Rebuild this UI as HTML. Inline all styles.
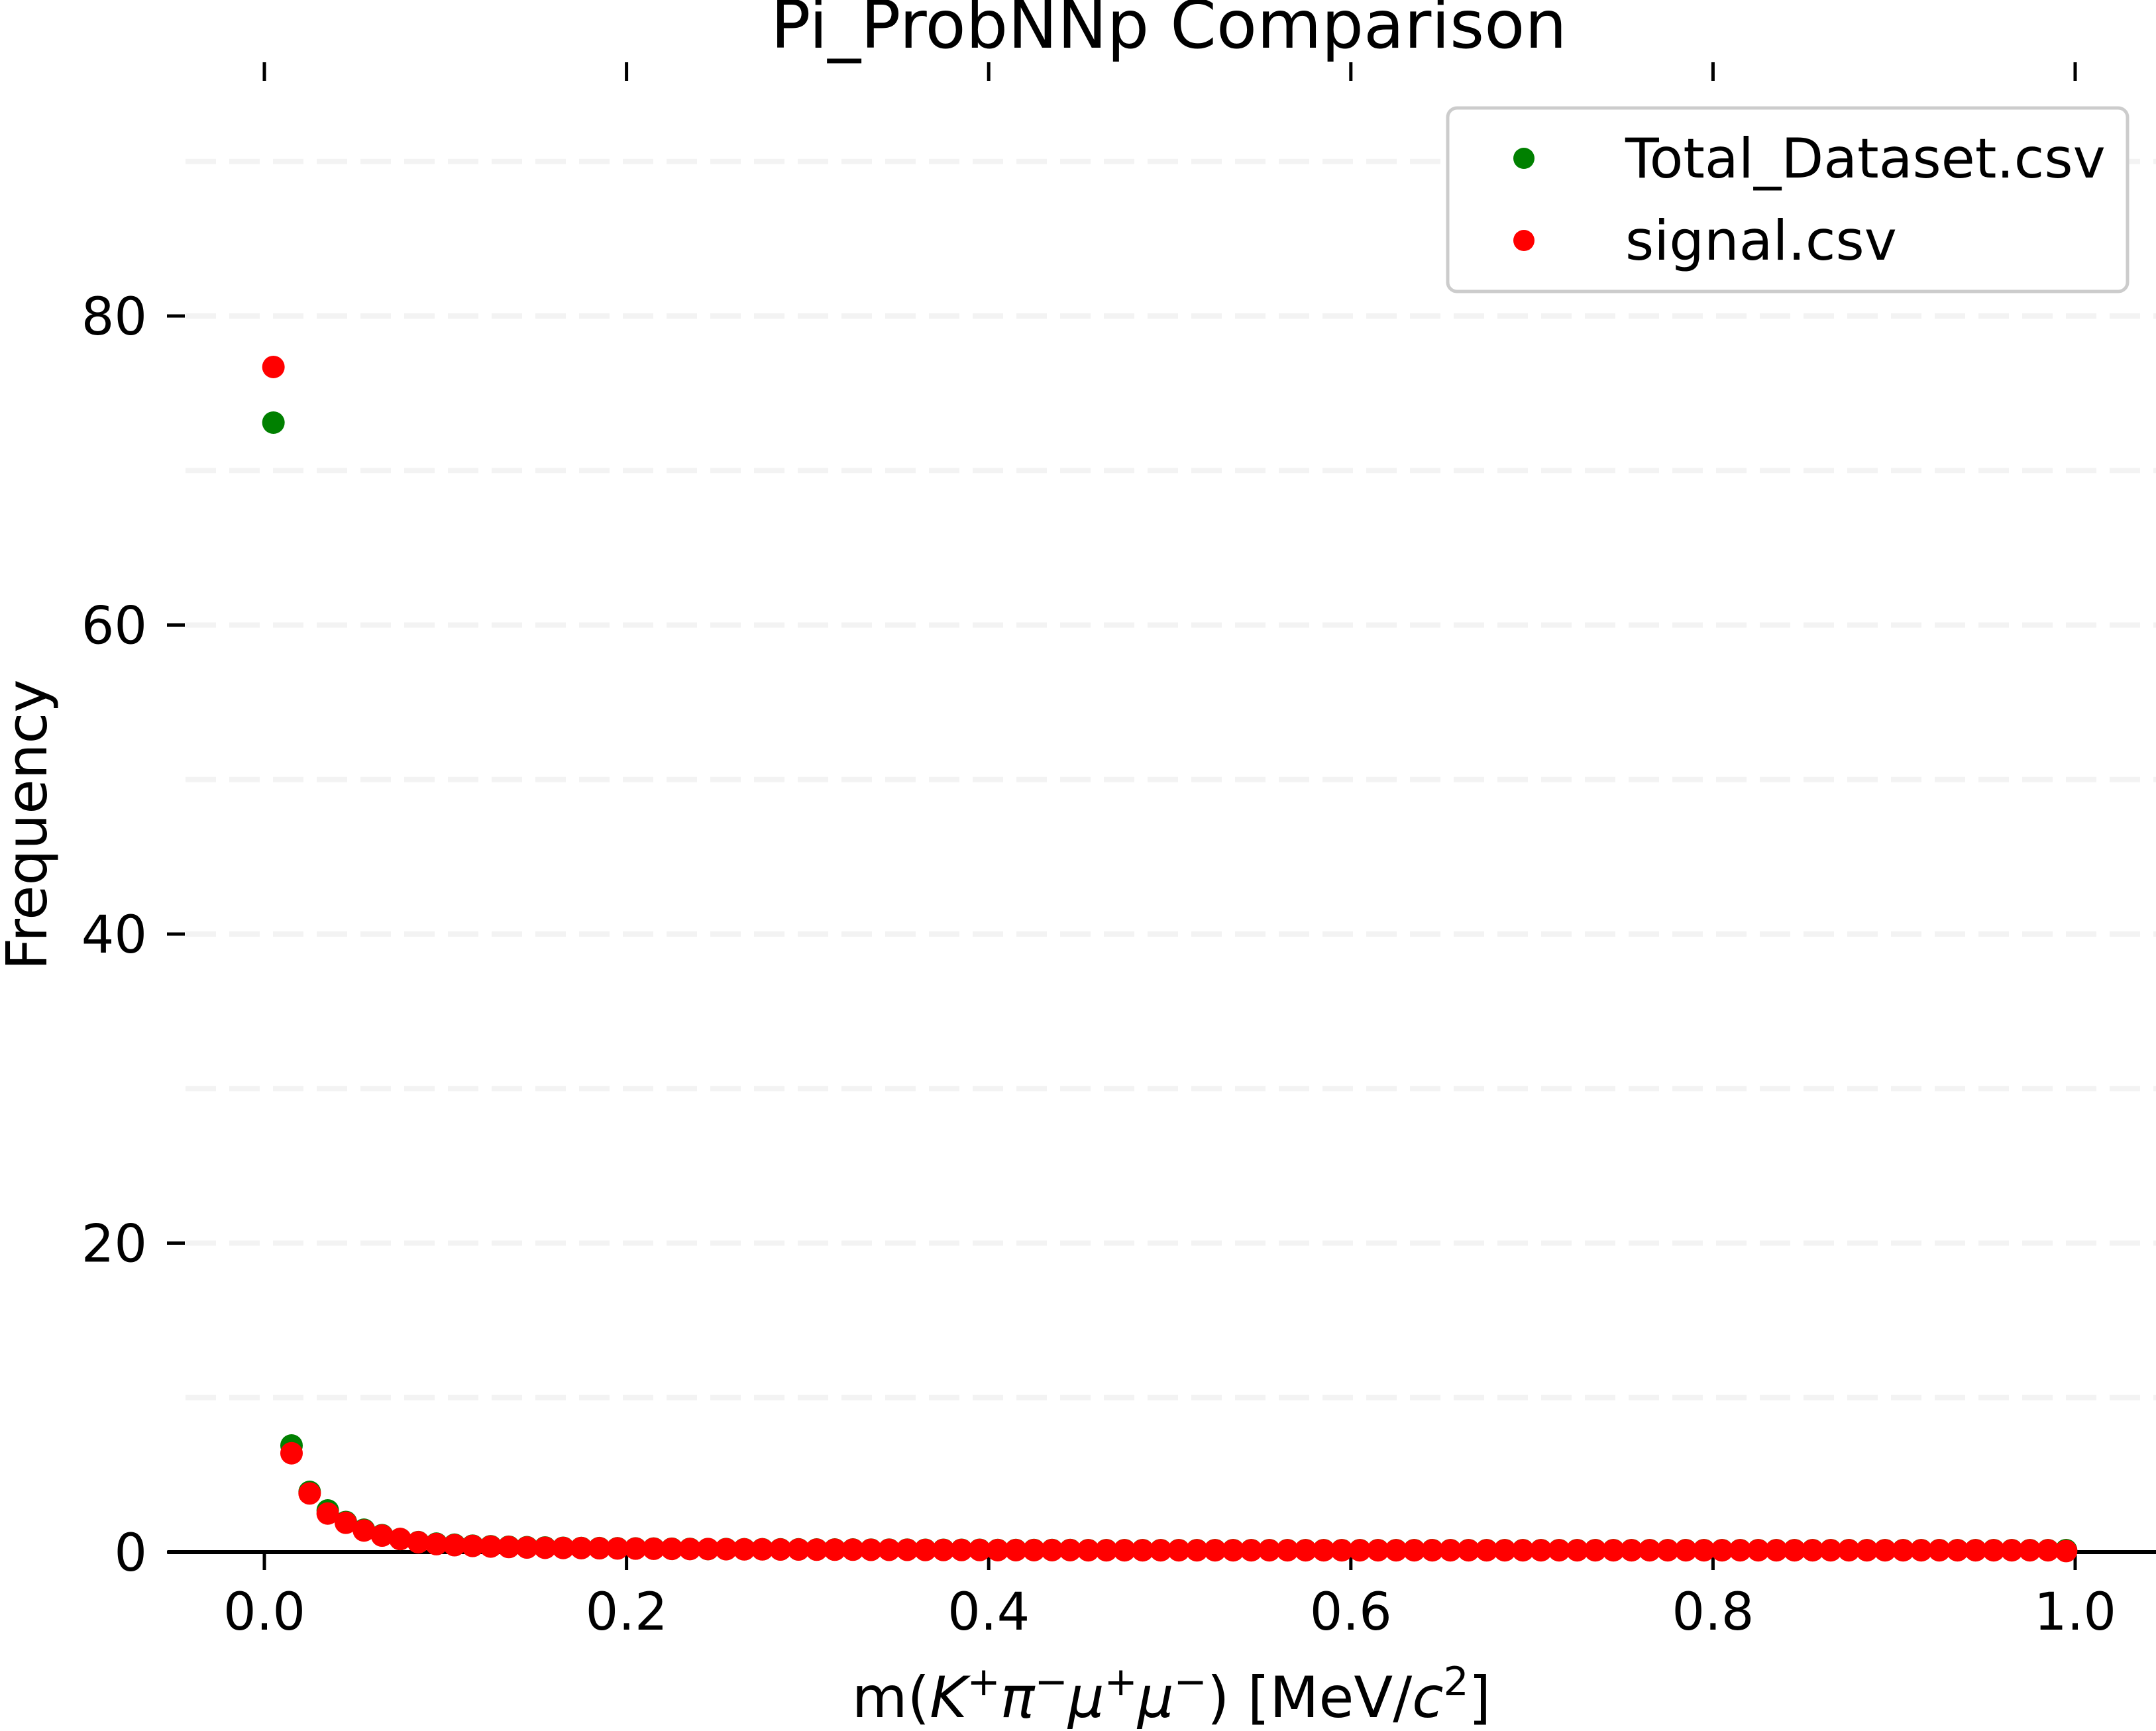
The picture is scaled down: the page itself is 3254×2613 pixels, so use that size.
<!DOCTYPE html>
<html><head><meta charset="utf-8"><style>
html,body{margin:0;padding:0;background:#fff;}
svg{display:block;font-family:"DejaVu Sans","Liberation Sans",sans-serif;}
</style></head><body>
<svg id="chart" width="3254" height="2613" viewBox="0 0 3254 2613" xmlns="http://www.w3.org/2000/svg">
<rect width="3254" height="2613" fill="#fff"/>
<g id="grid"></g>
<g id="axes"></g>
<g id="points"></g>
<text x="1764" y="72" font-size="100" text-anchor="middle">Pi_ProbNNp Comparison</text>
<text x="1768" y="2592" font-size="86" text-anchor="middle">m(<tspan font-style="italic">K</tspan><tspan font-size="60" dy="-33">+</tspan><tspan font-style="italic" dy="33">π</tspan><tspan font-size="60" dy="-33">−</tspan><tspan font-style="italic" dy="33">μ</tspan><tspan font-size="60" dy="-33">+</tspan><tspan font-style="italic" dy="33">μ</tspan><tspan font-size="60" dy="-33">−</tspan><tspan dy="33">) [MeV/</tspan><tspan font-style="italic">c</tspan><tspan font-size="60" dy="-33">2</tspan><tspan dy="33">]</tspan></text>
<text x="0" y="0" font-size="85" text-anchor="middle" transform="translate(70,1245) rotate(-90)">Frequency</text>
<g>
<rect x="2185" y="163" width="1026" height="277" rx="14" fill="#fff" stroke="#ccc" stroke-width="5"/>
<circle cx="2300" cy="239" r="16" fill="#008000"/>
<text x="2453" y="268" font-size="83">Total_Dataset.csv</text>
<circle cx="2300" cy="363" r="16" fill="#ff0000"/>
<text x="2453" y="392" font-size="83">signal.csv</text>
</g>
</svg>
<script>
const binCenters = Array.from({length:100},(_, i)=> (i+0.5)/100);
const totalValues = [73.1,6.9,3.9,2.7,1.95,1.45,1.1,0.85,0.65,0.55,0.48,0.42,0.38,0.35,0.32,0.3,0.28,0.27,0.26,0.25,
0.24,0.23,0.22,0.21,0.2,0.2,0.19,0.19,0.18,0.18,0.17,0.17,0.17,0.16,0.16,0.16,0.15,0.15,0.15,0.15,
0.14,0.14,0.14,0.14,0.14,0.13,0.13,0.13,0.13,0.13,0.13,0.13,0.13,0.13,0.13,0.13,0.13,0.13,0.13,0.13,
0.13,0.13,0.13,0.13,0.13,0.13,0.13,0.13,0.13,0.13,0.13,0.13,0.13,0.13,0.13,0.13,0.13,0.13,0.13,0.13,
0.13,0.13,0.13,0.13,0.13,0.13,0.13,0.13,0.13,0.13,0.13,0.13,0.13,0.13,0.13,0.13,0.13,0.13,0.13,0.13];
const signalValues = [76.7,6.4,3.8,2.5,1.9,1.4,1.07,0.85,0.64,0.52,0.45,0.4,0.36,0.33,0.3,0.28,0.27,0.26,0.25,0.24,
0.23,0.22,0.21,0.2,0.2,0.19,0.18,0.18,0.17,0.17,0.16,0.16,0.16,0.15,0.15,0.15,0.14,0.14,0.14,0.14,
0.13,0.13,0.13,0.13,0.13,0.12,0.12,0.12,0.12,0.12,0.12,0.12,0.12,0.12,0.12,0.12,0.12,0.12,0.12,0.12,
0.12,0.12,0.12,0.12,0.12,0.12,0.12,0.12,0.12,0.12,0.12,0.12,0.12,0.12,0.12,0.12,0.12,0.12,0.12,0.12,
0.12,0.12,0.12,0.12,0.12,0.12,0.12,0.12,0.12,0.12,0.12,0.12,0.12,0.12,0.12,0.12,0.12,0.12,0.12,0.07];
const xTicks = [0.0,0.2,0.4,0.6,0.8,1.0];
const xTickLabels = ["0.0","0.2","0.4","0.6","0.8","1.0"];
const yTicks = [0,20,40,60,80];
const yTickLabels = ["0","20","40","60","80"];
const gridValues = [10,20,30,40,50,60,70,80,90];

const NS="http://www.w3.org/2000/svg";
const sx = v => 399 + v*(3132-399);
const sy = v => 2343 - v*(2343-477)/80;
function mk(tag, attrs, parent){const e=document.createElementNS(NS,tag);for(const k in attrs)e.setAttribute(k,attrs[k]);parent.appendChild(e);return e;}
const grid=document.getElementById('grid'), axes=document.getElementById('axes'), pts=document.getElementById('points');
gridValues.forEach(g=>{
  const l=mk('line',{x1:280,x2:3254,y1:sy(g),y2:sy(g),stroke:'#f3f3f3','stroke-width':8,'stroke-dasharray':'46 20'},grid);
  
  
});
const ax=mk('line',{x1:253,x2:3254,y1:2343,y2:2343,stroke:'#000','stroke-width':6},axes);


xTicks.forEach((t,i)=>{
  const b=mk('line',{x1:sx(t),x2:sx(t),y1:2343,y2:2370,stroke:'#000','stroke-width':5},axes);
  
  
  const tp=mk('line',{x1:sx(t),x2:sx(t),y1:94,y2:122,stroke:'#000','stroke-width':5},axes);
  
  
  const tx=mk('text',{x:sx(t),y:2460,'font-size':78,'text-anchor':'middle'},axes);
  tx.textContent=xTickLabels[i];
  
  
});
yTicks.forEach((t,i)=>{
  const l=mk('line',{x1:252,x2:279,y1:sy(t),y2:sy(t),stroke:'#000','stroke-width':5},axes);
  
  
  const tx=mk('text',{x:222,y:sy(t)+28,'font-size':78,'text-anchor':'end'},axes);
  tx.textContent=yTickLabels[i];
  
  
});
binCenters.forEach((x,i)=>{
  const c=mk('circle',{cx:sx(x),cy:sy(totalValues[i]),r:17,fill:'#008000'},pts);
  
  
});
binCenters.forEach((x,i)=>{
  const c=mk('circle',{cx:sx(x),cy:sy(signalValues[i]),r:17,fill:'#ff0000'},pts);
  
  
});
</script>
</body></html>
